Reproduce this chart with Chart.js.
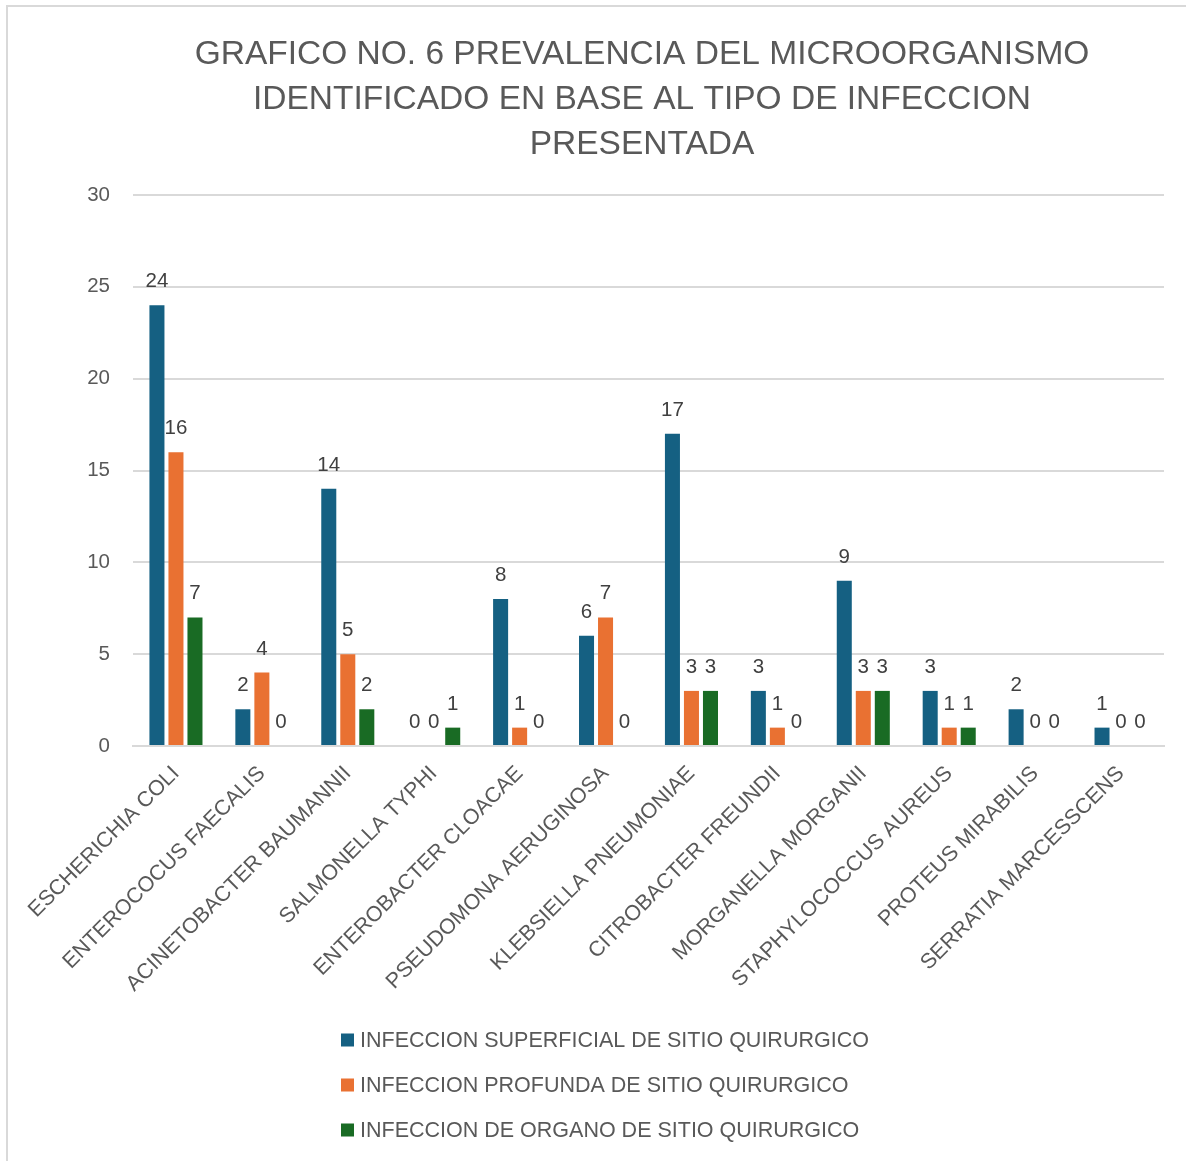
<!DOCTYPE html>
<html><head><meta charset="utf-8">
<script src="https://cdn.jsdelivr.net/npm/chart.js@4.4.1/dist/chart.umd.min.js"></script>
<style>
html,body{margin:0;padding:0;background:#fff;overflow:hidden;width:1186px;height:1161px;}
#frame{position:absolute;left:6px;top:5px;width:1200px;height:1200px;border:2px solid #d9d9d9;box-sizing:border-box;}
#wrap{position:absolute;left:0;top:0;width:1186px;height:1161px;}
</style></head>
<body>
<div id="frame"></div>
<div id="wrap"><canvas id="c" width="1186" height="1161"></canvas></div>
<script>
const titleLines = ["GRAFICO NO. 6 PREVALENCIA DEL MICROORGANISMO", "IDENTIFICADO EN BASE AL TIPO DE INFECCION", "PRESENTADA"];
const categories = ["ESCHERICHIA COLI","ENTEROCOCUS FAECALIS","ACINETOBACTER BAUMANNII","SALMONELLA TYPHI","ENTEROBACTER CLOACAE","PSEUDOMONA AERUGINOSA","KLEBSIELLA PNEUMONIAE","CITROBACTER FREUNDII","MORGANELLA MORGANII","STAPHYLOCOCCUS AUREUS","PROTEUS MIRABILIS","SERRATIA MARCESSCENS"];
const seriesNames = ["INFECCION SUPERFICIAL DE SITIO QUIRURGICO","INFECCION PROFUNDA DE SITIO QUIRURGICO","INFECCION DE ORGANO DE SITIO QUIRURGICO"];
const superficial = [24,2,14,0,8,6,17,3,9,3,2,1];
const profunda = [16,4,5,0,1,7,3,1,3,1,0,0];
const organo = [7,0,2,1,0,0,3,0,3,1,0,0];
const seriesColors = ["#156082","#E97132","#196B24"];

const FONT = "'Liberation Sans', Arial, sans-serif";

const dataLabels = {
  id:'dataLabels',
  afterDatasetsDraw(chart){
    const ctx = chart.ctx;
    ctx.save();
    ctx.font = "20.5px " + FONT;
    ctx.fillStyle = "#404040";
    ctx.textAlign = "center";
    ctx.textBaseline = "alphabetic";
    chart.data.datasets.forEach((ds,i)=>{
      const meta = chart.getDatasetMeta(i);
      meta.data.forEach((bar,j)=>{
        ctx.fillText(String(ds.data[j]), bar.x, bar.y - 18);
      });
    });
    ctx.restore();
  }
};

const customLegend = {
  id:'customLegend',
  afterDraw(chart){
    const ctx = chart.ctx;
    ctx.save();
    ctx.font = "21.5px " + FONT;
    ctx.textBaseline = "middle";
    ctx.textAlign = "left";
    const x0 = 341, y0 = 1040, step = 45, box = 13;
    chart.data.datasets.forEach((ds,i)=>{
      const y = y0 + i*step;
      ctx.fillStyle = ds.backgroundColor;
      ctx.fillRect(x0, y - box/2, box, box);
      ctx.fillStyle = "#595959";
      ctx.fillText(ds.label, x0 + 19, y + 1);
    });
    ctx.restore();
  }
};

const shiftTitle = {
  id:'shiftTitle',
  afterLayout(chart){
    const t = chart.titleBlock;
    if (t) { t.left = 120; t.right = 1164; }
  }
};

new Chart(document.getElementById('c'), {
  type:'bar',
  data:{
    labels: categories,
    datasets:[
      {label:seriesNames[0], data:superficial, backgroundColor:seriesColors[0]},
      {label:seriesNames[1], data:profunda, backgroundColor:seriesColors[1]},
      {label:seriesNames[2], data:organo, backgroundColor:seriesColors[2]}
    ]
  },
  options:{
    responsive:false,
    animation:false,
    devicePixelRatio:1,
    layout:{padding:{left:0,right:22,top:0,bottom:145}},
    datasets:{bar:{barPercentage:0.79,categoryPercentage:0.664}},
    plugins:{
      legend:{display:false},
      tooltip:{enabled:false},
      title:{display:true,text:titleLines,color:"#595959",
        font:{family:FONT,size:33.5,weight:'normal',lineHeight:'45px'},
        padding:{top:32,bottom:28}}
    },
    scales:{
      x:{
        grid:{display:false,drawTicks:false},
        border:{display:true,color:"#d9d9d9",width:2},
        ticks:{minRotation:45,maxRotation:45,autoSkip:false,color:"#595959",
          font:{family:FONT,size:21.5},padding:15},
        afterFit(s){ s.height = 270; }
      },
      y:{
        min:0,max:30,
        grid:{color:"#d9d9d9",lineWidth:2,drawTicks:false},
        border:{display:false},
        ticks:{stepSize:5,color:"#595959",font:{family:FONT,size:20.5},padding:23},
        afterFit(s){ s.width = 133; }
      }
    }
  },
  plugins:[dataLabels,customLegend,shiftTitle]
});
</script>
</body></html>
